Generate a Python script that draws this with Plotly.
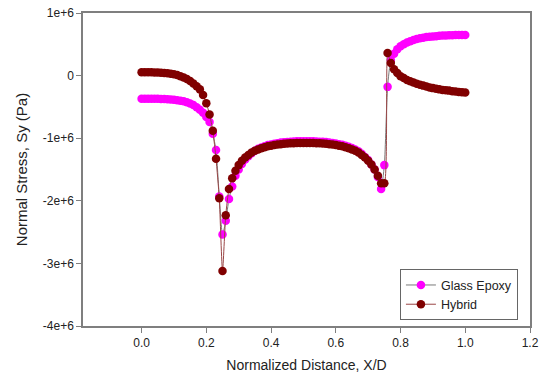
import plotly.graph_objects as go

x_vals = [0.00, 0.01, 0.02, 0.03, 0.04, 0.05, 0.06, 0.07, 0.08, 0.09,
          0.10, 0.11, 0.12, 0.13, 0.14, 0.15, 0.16, 0.17, 0.18, 0.19,
          0.20, 0.21, 0.22, 0.23, 0.24, 0.25, 0.26, 0.27, 0.28, 0.29,
          0.30, 0.31, 0.32, 0.33, 0.34, 0.35, 0.36, 0.37, 0.38, 0.39,
          0.40, 0.41, 0.42, 0.43, 0.44, 0.45, 0.46, 0.47, 0.48, 0.49,
          0.50, 0.51, 0.52, 0.53, 0.54, 0.55, 0.56, 0.57, 0.58, 0.59,
          0.60, 0.61, 0.62, 0.63, 0.64, 0.65, 0.66, 0.67, 0.68, 0.69,
          0.70, 0.71, 0.72, 0.73, 0.74, 0.75, 0.76, 0.77, 0.78, 0.79,
          0.80, 0.81, 0.82, 0.83, 0.84, 0.85, 0.86, 0.87, 0.88, 0.89,
          0.90, 0.91, 0.92, 0.93, 0.94, 0.95, 0.96, 0.97, 0.98, 0.99,
          1.00]

# stress values in units of 1e6 Pa
glass_epoxy = [-0.370, -0.370, -0.370, -0.370, -0.370, -0.370, -0.372, -0.375, -0.378, -0.382,
               -0.387, -0.393, -0.400, -0.410, -0.425, -0.445, -0.470, -0.505, -0.545, -0.595,
               -0.660, -0.740, -0.930, -1.190, -1.930, -2.540, -2.320, -1.970, -1.770, -1.600,
               -1.500, -1.410, -1.340, -1.290, -1.240, -1.200, -1.170, -1.150, -1.130, -1.110,
               -1.100, -1.090, -1.080, -1.070, -1.065, -1.060, -1.055, -1.052, -1.050, -1.050,
               -1.050, -1.050, -1.050, -1.050, -1.052, -1.055, -1.058, -1.062, -1.068, -1.075,
               -1.085, -1.095, -1.105, -1.120, -1.135, -1.155, -1.180, -1.210, -1.250, -1.300,
               -1.350, -1.420, -1.500, -1.620, -1.810, -1.430, -0.180, 0.250, 0.350, 0.420,
               0.470, 0.500, 0.530, 0.550, 0.570, 0.585, 0.595, 0.605, 0.615, 0.620,
               0.625, 0.630, 0.635, 0.640, 0.640, 0.645, 0.645, 0.650, 0.650, 0.650,
               0.650]

hybrid = [0.055, 0.055, 0.054, 0.053, 0.051, 0.049, 0.046, 0.042, 0.037, 0.031,
          0.022, 0.011, -0.010, -0.030, -0.055, -0.085, -0.125, -0.170, -0.220, -0.310,
          -0.440, -0.620, -0.880, -1.330, -1.960, -3.120, -2.230, -1.810, -1.640, -1.520,
          -1.430, -1.360, -1.310, -1.270, -1.230, -1.200, -1.180, -1.160, -1.145, -1.130,
          -1.120, -1.110, -1.100, -1.095, -1.090, -1.085, -1.080, -1.080, -1.075, -1.075,
          -1.075, -1.075, -1.075, -1.075, -1.080, -1.080, -1.085, -1.090, -1.095, -1.100,
          -1.110, -1.120, -1.130, -1.145, -1.160, -1.180, -1.200, -1.230, -1.270, -1.310,
          -1.360, -1.420, -1.500, -1.600, -1.720, -1.720, 0.360, 0.200, 0.100, 0.040,
          -0.010, -0.040, -0.070, -0.090, -0.110, -0.130, -0.145, -0.160, -0.175, -0.190,
          -0.200, -0.210, -0.220, -0.230, -0.235, -0.240, -0.250, -0.255, -0.260, -0.265,
          -0.270]

x_ticks = [0.0, 0.2, 0.4, 0.6, 0.8, 1.0, 1.2]
x_tick_labels = ["0.0", "0.2", "0.4", "0.6", "0.8", "1.0", "1.2"]
y_ticks = [1e6, 0, -1e6, -2e6, -3e6, -4e6]
y_tick_labels = ["1e+6", "0", "-1e+6", "-2e+6", "-3e+6", "-4e+6"]

fig = go.Figure()
fig.add_trace(go.Scatter(
    x=x_vals, y=[v * 1e6 for v in glass_epoxy], name="Glass Epoxy",
    mode="lines+markers",
    line=dict(color="#7a7a7a", width=1, shape="spline", smoothing=0.6),
    marker=dict(color="#ff00ff", size=8.5),
))
fig.add_trace(go.Scatter(
    x=x_vals, y=[v * 1e6 for v in hybrid], name="Hybrid",
    mode="lines+markers",
    line=dict(color="#9a4646", width=1, shape="spline", smoothing=0.6),
    marker=dict(color="#800000", size=8.5),
))

axis_common = dict(showgrid=False, zeroline=False, showline=True, linecolor="#7f7f7f",
                   linewidth=1.5, mirror=True, ticks="outside", ticklen=5, automargin=False,
                   tickcolor="#7f7f7f", tickfont=dict(family="Liberation Sans, Arial", size=12, color="#222"))

fig.update_layout(
    width=540, height=378,
    margin=dict(l=83, r=10, t=13, b=52),
    paper_bgcolor="white", plot_bgcolor="white",
    font=dict(family="Liberation Sans, Arial", color="#222"),
    xaxis=dict(range=[-0.181, 1.2], tickvals=x_ticks, ticktext=x_tick_labels,
               title=dict(text="Normalized Distance, X/D", font=dict(size=14), standoff=11),
               **axis_common),
    yaxis=dict(range=[-4e6, 1e6], tickvals=y_ticks, ticktext=y_tick_labels,
               title=dict(text="Normal Stress, Sy (Pa)", font=dict(size=15), standoff=12),
               **axis_common),
    legend=dict(x=0.709, y=0.181, xanchor="left", yanchor="top",
                bordercolor="#666", borderwidth=1, bgcolor="white",
                font=dict(size=12.5, color="#222"), tracegroupgap=0),
    showlegend=True,
)

fig.write_html("out.html", post_script="document.body.style.margin='0';",
               config={"displayModeBar": False})
